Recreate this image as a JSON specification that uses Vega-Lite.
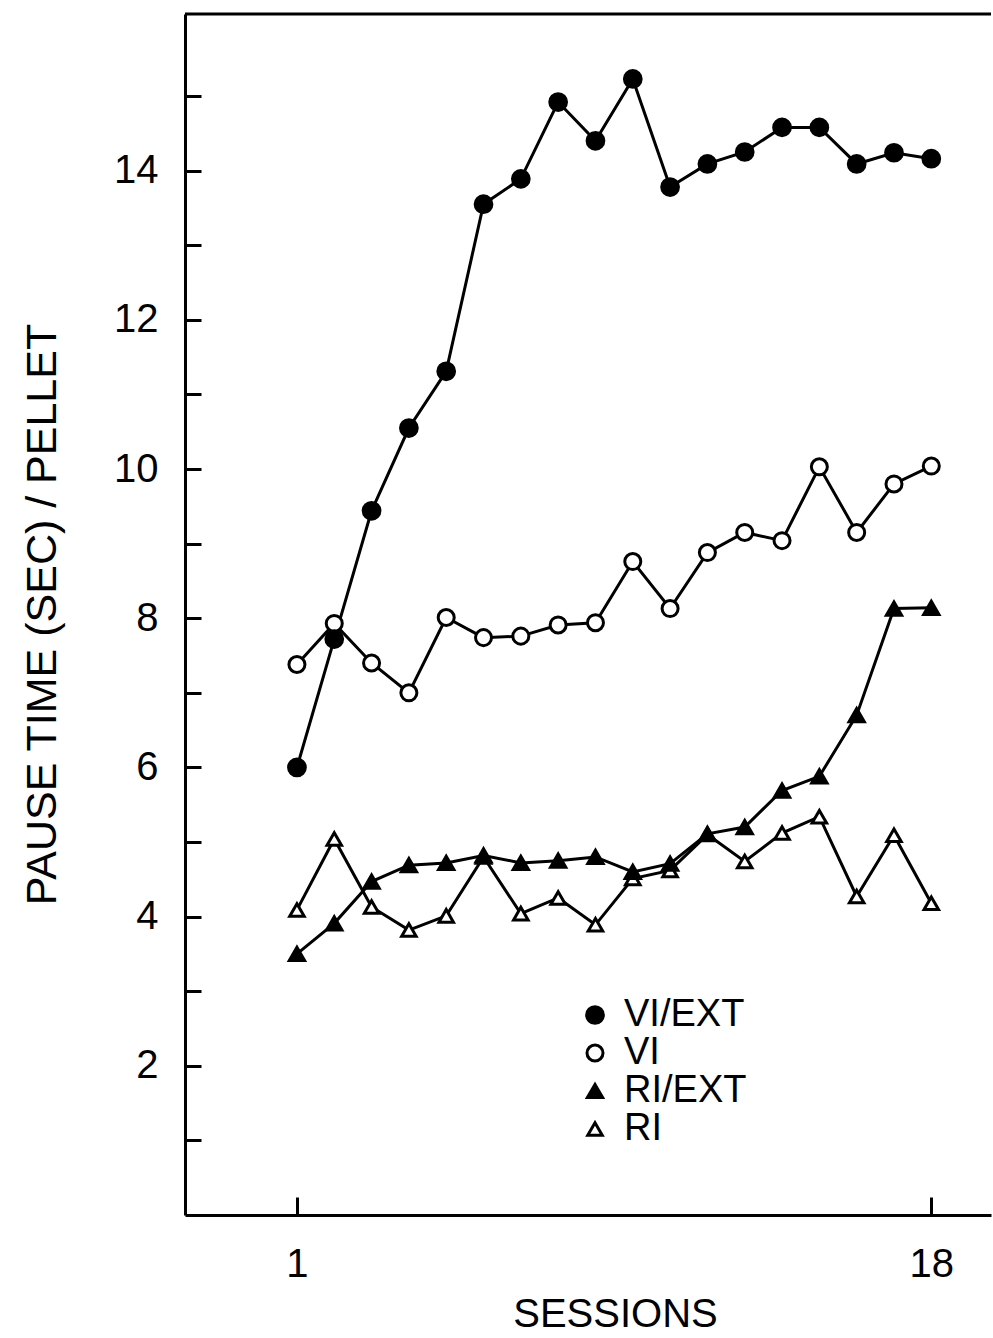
{
  "$schema": "https://vega.github.io/schema/vega-lite/v6.json",
  "autosize": "none",
  "width": 806,
  "height": 1201,
  "padding": {"left": 185, "top": 14, "right": 2, "bottom": 123},
  "background": "white",
  "config": {
    "view": {"stroke": null},
    "font": "Liberation Sans",
    "axis": {
      "domainColor": "black",
      "domainWidth": 3,
      "tickColor": "black",
      "tickWidth": 3,
      "grid": false,
      "labelColor": "black",
      "titleColor": "black",
      "labelFont": "Liberation Sans",
      "titleFont": "Liberation Sans",
      "titleFontWeight": "normal",
      "labelFontSize": 40,
      "labelFlush": false,
      "labelOverlap": false
    },
    "legend": {
      "title": null,
      "orient": "none",
      "legendX": 391,
      "legendY": 982,
      "padding": 0,
      "rowPadding": 0,
      "labelFontSize": 38,
      "labelFont": "Liberation Sans",
      "labelColor": "black",
      "labelOffset": 10,
      "symbolStrokeColor": "black",
      "symbolStrokeWidth": 3,
      "symbolOpacity": 1
    }
  },
  "datasets": {
    "pts": [
      {"s": 1, "v": 7.38, "g": "VI"},
      {"s": 2, "v": 7.93, "g": "VI"},
      {"s": 3, "v": 7.4, "g": "VI"},
      {"s": 4, "v": 7.0, "g": "VI"},
      {"s": 5, "v": 8.01, "g": "VI"},
      {"s": 6, "v": 7.74, "g": "VI"},
      {"s": 7, "v": 7.76, "g": "VI"},
      {"s": 8, "v": 7.91, "g": "VI"},
      {"s": 9, "v": 7.94, "g": "VI"},
      {"s": 10, "v": 8.76, "g": "VI"},
      {"s": 11, "v": 8.13, "g": "VI"},
      {"s": 12, "v": 8.88, "g": "VI"},
      {"s": 13, "v": 9.15, "g": "VI"},
      {"s": 14, "v": 9.04, "g": "VI"},
      {"s": 15, "v": 10.03, "g": "VI"},
      {"s": 16, "v": 9.15, "g": "VI"},
      {"s": 17, "v": 9.8, "g": "VI"},
      {"s": 18, "v": 10.04, "g": "VI"},
      {"s": 1, "v": 4.09, "g": "RI"},
      {"s": 2, "v": 5.04, "g": "RI"},
      {"s": 3, "v": 4.13, "g": "RI"},
      {"s": 4, "v": 3.82, "g": "RI"},
      {"s": 5, "v": 4.01, "g": "RI"},
      {"s": 6, "v": 4.8, "g": "RI"},
      {"s": 7, "v": 4.04, "g": "RI"},
      {"s": 8, "v": 4.25, "g": "RI"},
      {"s": 9, "v": 3.89, "g": "RI"},
      {"s": 10, "v": 4.51, "g": "RI"},
      {"s": 11, "v": 4.62, "g": "RI"},
      {"s": 12, "v": 5.1, "g": "RI"},
      {"s": 13, "v": 4.74, "g": "RI"},
      {"s": 14, "v": 5.12, "g": "RI"},
      {"s": 15, "v": 5.34, "g": "RI"},
      {"s": 16, "v": 4.27, "g": "RI"},
      {"s": 17, "v": 5.09, "g": "RI"},
      {"s": 18, "v": 4.18, "g": "RI"},
      {"s": 1, "v": 6.0, "g": "VI/EXT"},
      {"s": 2, "v": 7.72, "g": "VI/EXT"},
      {"s": 3, "v": 9.44, "g": "VI/EXT"},
      {"s": 4, "v": 10.55, "g": "VI/EXT"},
      {"s": 5, "v": 11.31, "g": "VI/EXT"},
      {"s": 6, "v": 13.55, "g": "VI/EXT"},
      {"s": 7, "v": 13.89, "g": "VI/EXT"},
      {"s": 8, "v": 14.92, "g": "VI/EXT"},
      {"s": 9, "v": 14.4, "g": "VI/EXT"},
      {"s": 10, "v": 15.23, "g": "VI/EXT"},
      {"s": 11, "v": 13.78, "g": "VI/EXT"},
      {"s": 12, "v": 14.09, "g": "VI/EXT"},
      {"s": 13, "v": 14.25, "g": "VI/EXT"},
      {"s": 14, "v": 14.58, "g": "VI/EXT"},
      {"s": 15, "v": 14.58, "g": "VI/EXT"},
      {"s": 16, "v": 14.09, "g": "VI/EXT"},
      {"s": 17, "v": 14.24, "g": "VI/EXT"},
      {"s": 18, "v": 14.16, "g": "VI/EXT"},
      {"s": 1, "v": 3.5, "g": "RI/EXT"},
      {"s": 2, "v": 3.91, "g": "RI/EXT"},
      {"s": 3, "v": 4.47, "g": "RI/EXT"},
      {"s": 4, "v": 4.69, "g": "RI/EXT"},
      {"s": 5, "v": 4.72, "g": "RI/EXT"},
      {"s": 6, "v": 4.82, "g": "RI/EXT"},
      {"s": 7, "v": 4.72, "g": "RI/EXT"},
      {"s": 8, "v": 4.75, "g": "RI/EXT"},
      {"s": 9, "v": 4.8, "g": "RI/EXT"},
      {"s": 10, "v": 4.6, "g": "RI/EXT"},
      {"s": 11, "v": 4.71, "g": "RI/EXT"},
      {"s": 12, "v": 5.11, "g": "RI/EXT"},
      {"s": 13, "v": 5.2, "g": "RI/EXT"},
      {"s": 14, "v": 5.69, "g": "RI/EXT"},
      {"s": 15, "v": 5.88, "g": "RI/EXT"},
      {"s": 16, "v": 6.7, "g": "RI/EXT"},
      {"s": 17, "v": 8.13, "g": "RI/EXT"},
      {"s": 18, "v": 8.14, "g": "RI/EXT"}
    ],
    "frame": [{"top": 16.1}]
  },
  "layer": [
    {
      "data": {"name": "frame"},
      "mark": {"type": "rule", "stroke": "black", "strokeWidth": 3},
      "encoding": {
        "y": {"field": "top", "type": "quantitative", "scale": {"domain": [0, 16.1], "nice": false, "zero": false}}
      }
    },
    {
      "data": {"name": "pts"},
      "mark": {"type": "line", "stroke": "black", "strokeWidth": 3},
      "encoding": {
        "x": {"field": "s", "type": "quantitative"},
        "y": {"field": "v", "type": "quantitative"},
        "detail": {"field": "g"}
      }
    },
    {
      "data": {"name": "pts"},
      "mark": {"type": "point", "filled": true, "stroke": "black", "strokeWidth": 3, "opacity": 1, "strokeOpacity": 1, "fillOpacity": 1},
      "encoding": {
        "x": {
          "field": "s", "type": "quantitative",
          "scale": {"domain": [-2, 19.6], "nice": false, "zero": false},
          "axis": {
            "values": [1, 18],
            "format": "d",
            "tickSize": -18,
            "labelPadding": 47,
            "title": "SESSIONS",
            "titleFontSize": 40,
            "titleX": 430,
            "titleY": 99,
            "titleBaseline": "middle",
            "titleAlign": "center"
          }
        },
        "y": {
          "field": "v", "type": "quantitative",
          "scale": {"domain": [0, 16.1], "nice": false, "zero": false},
          "axis": {
            "values": [1, 2, 3, 4, 5, 6, 7, 8, 9, 10, 11, 12, 13, 14, 15],
            "format": "d",
            "labelExpr": "datum.value % 2 == 0 ? datum.label : ''",
            "tickSize": -16,
            "labelPadding": 43,
            "title": "PAUSE TIME (SEC) / PELLET",
            "titleFontSize": 43,
            "titleX": -143,
            "titleY": 600,
            "titleBaseline": "middle",
            "titleAlign": "center",
            "titleAngle": -90
          }
        },
        "shape": {
          "field": "g", "type": "nominal",
          "scale": {"domain": ["VI/EXT", "VI", "RI/EXT", "RI"], "range": ["circle", "circle", "triangle-up", "triangle-up"]},
          "legend": {
            "encode": {
              "symbols": {
                "update": {
                  "stroke": {"value": "black"},
                  "strokeWidth": {"value": 3}
                }
              }
            }
          }
        },
        "fill": {
          "field": "g", "type": "nominal",
          "scale": {"domain": ["VI/EXT", "VI", "RI/EXT", "RI"], "range": ["black", "white", "black", "white"]},
          "legend": {
            "encode": {
              "symbols": {
                "update": {
                  "stroke": {"value": "black"},
                  "strokeWidth": {"value": 3}
                }
              }
            }
          }
        },
        "size": {
          "field": "g", "type": "nominal",
          "scale": {"domain": ["VI/EXT", "VI", "RI/EXT", "RI"], "range": [280, 210, 500, 480]},
          "legend": {
            "encode": {
              "symbols": {
                "update": {
                  "stroke": {"value": "black"},
                  "strokeWidth": {"value": 3}
                }
              }
            }
          }
        }
      }
    }
  ]
}
